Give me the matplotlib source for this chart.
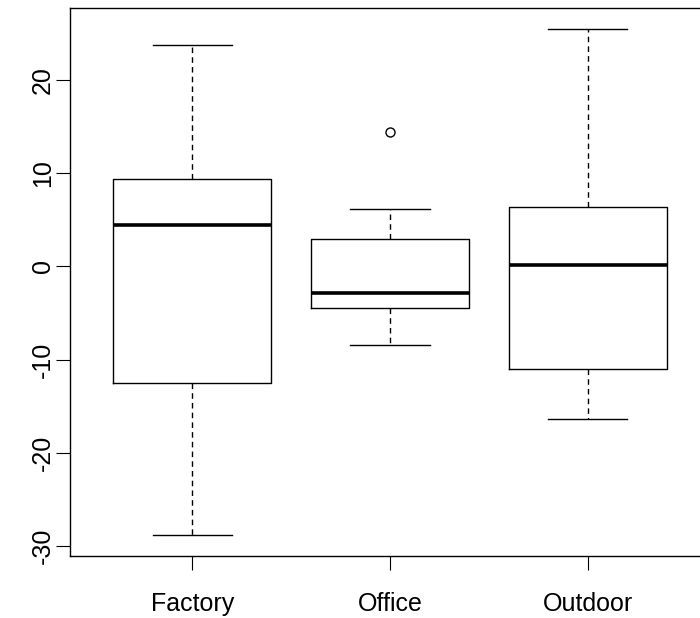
import matplotlib
matplotlib.use("Agg")
import matplotlib.pyplot as plt

# boxplot summary values
groups = ["Factory", "Office", "Outdoor"]
whislo = [-28.8, -8.4, -16.4]
q1 = [-12.5, -4.5, -11.0]
med = [4.4, -2.9, 0.1]
q3 = [9.4, 2.9, 6.4]
whishi = [23.7, 6.2, 25.5]
fliers = [[], [14.45], []]
yticks = [-30, -20, -10, 0, 10, 20]

plt.rcParams['font.family'] = ['Liberation Sans', 'DejaVu Sans']

stats = []
for i in range(len(groups)):
    stats.append(dict(label=groups[i], whislo=whislo[i], q1=q1[i], med=med[i],
                      q3=q3[i], whishi=whishi[i], fliers=fliers[i]))

fig = plt.figure(figsize=(7, 6.18), dpi=100)
# the reference is cropped on the right, so the axes run past the figure edge
ax = fig.add_axes([0.1, 0.1003, 0.9143, 0.8863])

lw = 1.0
ax.bxp(stats, positions=[1, 2, 3], widths=0.8, capwidths=0.4,
       boxprops=dict(color="black", linewidth=lw),
       whiskerprops=dict(color="black", linewidth=lw, linestyle=(0, (4, 3))),
       capprops=dict(color="black", linewidth=lw),
       medianprops=dict(color="black", linewidth=2.6, solid_capstyle="butt"),
       flierprops=dict(marker="o", markerfacecolor="none", markeredgecolor="black",
                       markersize=6.5, markeredgewidth=lw))

ax.set_xlim(0.38, 3.62)
ax.set_ylim(-31.08, 27.68)
ax.set_xticks([1, 2, 3])
ax.set_xticklabels(groups)
ax.set_yticks(yticks)
ax.set_yticklabels([str(v) for v in yticks], rotation=90, va="center")

for s in ax.spines.values():
    s.set_linewidth(1.0)
ax.tick_params(axis="both", length=10, width=0.8, labelsize=18)
ax.tick_params(axis="x", pad=16)
ax.tick_params(axis="y", pad=1)

fig.savefig("out.png", dpi=100)
